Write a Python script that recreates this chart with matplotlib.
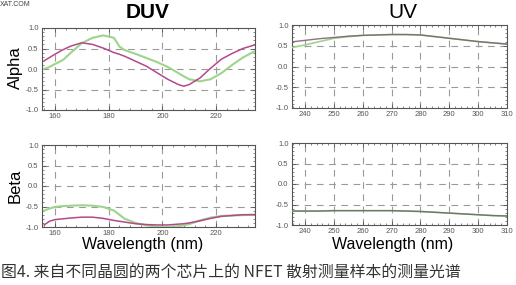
import matplotlib
matplotlib.use("Agg")
from matplotlib import pyplot as plt
from matplotlib.ticker import MultipleLocator

# DUV 区域 (nm)
duv_wl = [156, 158, 160, 163, 166, 170, 174, 178, 182, 184, 186, 190, 194, 198,
          202, 206, 208, 210, 214, 218, 222, 226, 230, 234, 235]
duv_alpha_a = [0.20, 0.28, 0.36, 0.47, 0.56, 0.64, 0.60, 0.51, 0.40, 0.36, 0.31, 0.19,
               0.07, -0.09, -0.25, -0.38, -0.42, -0.38, -0.22, 0.02, 0.24, 0.38, 0.50, 0.58, 0.60]
duv_alpha_b = [0.00, 0.05, 0.12, 0.22, 0.40, 0.63, 0.76, 0.82, 0.76, 0.55, 0.46, 0.37,
               0.27, 0.17, 0.05, -0.10, -0.18, -0.25, -0.30, -0.25, -0.10, 0.10, 0.28, 0.42, 0.45]
duv_beta_a = [-0.95, -0.86, -0.82, -0.80, -0.78, -0.76, -0.76, -0.79, -0.84, -0.86, -0.88,
              -0.92, -0.94, -0.95, -0.95, -0.93, -0.92, -0.90, -0.85, -0.79, -0.74, -0.72,
              -0.70, -0.70, -0.70]
duv_beta_b = [-0.60, -0.55, -0.51, -0.49, -0.48, -0.47, -0.48, -0.51, -0.60, -0.70, -0.80,
              -0.90, -0.96, -0.99, -1.00, -0.98, -0.96, -0.93, -0.84, -0.77, -0.73, -0.72,
              -0.71, -0.70, -0.70]

# UV 区域 (nm)
uv_wl = [235, 240, 245, 250, 255, 260, 265, 270, 275, 280, 285, 290, 295, 300, 305, 310]
uv_alpha_a = [0.59, 0.63, 0.67, 0.70, 0.73, 0.75, 0.76, 0.77, 0.77, 0.76, 0.72, 0.68,
              0.64, 0.60, 0.57, 0.54]
uv_alpha_b = [0.45, 0.52, 0.60, 0.68, 0.72, 0.75, 0.76, 0.77, 0.77, 0.76, 0.72, 0.68,
              0.64, 0.60, 0.57, 0.54]
uv_beta_a = [-0.66, -0.66, -0.66, -0.65, -0.65, -0.65, -0.65, -0.65, -0.66, -0.67, -0.69,
             -0.71, -0.73, -0.75, -0.77, -0.78]
uv_beta_b = [-0.66, -0.66, -0.66, -0.65, -0.65, -0.65, -0.65, -0.65, -0.66, -0.67, -0.69,
             -0.71, -0.73, -0.75, -0.77, -0.78]

y_ticks = [-1.0, -0.5, 0.0, 0.5, 1.0]
duv_ticks = [160, 180, 200, 220]
uv_ticks = [240, 250, 260, 270, 280, 290, 300, 310]

c_a = "#b4488a"   # 品红
c_b = "#9ed48c"   # 浅绿

plt.rcParams['font.family'] = ['Liberation Sans', 'DejaVu Sans']

fig = plt.figure(figsize=(5.16, 2.85), dpi=100)
W, H = 516.0, 285.0


def make_ax(l, r, t, b):
    return fig.add_axes([l / W, 1 - b / H, (r - l) / W, (b - t) / H])


def style(ax, xlim, xt, xminor, gx):
    ax.set_xlim(*xlim)
    ax.set_ylim(-1.0, 1.0)
    ax.set_xticks(xt)
    ax.set_yticks(y_ticks)
    ax.set_yticklabels(["%.1f" % v for v in y_ticks])
    ax.xaxis.set_minor_locator(MultipleLocator(xminor))
    ax.yaxis.set_minor_locator(MultipleLocator(0.1))
    ax.tick_params(which='both', direction='in', top=True, right=True,
                   colors='#555555', labelsize=5.5, pad=2.5)
    ax.tick_params(which='major', length=3, width=0.6)
    ax.tick_params(which='minor', length=1.5, width=0.5)
    for s in ax.spines.values():
        s.set_color('#555555')
        s.set_linewidth(0.8)
    for x in gx:
        ax.axvline(x, color='#9a9a9a', lw=0.8, ls=(0, (6, 5)), zorder=1)
    for y in [-0.5, 0.0, 0.5]:
        ax.axhline(y, color='#9a9a9a', lw=0.8, ls=(0, (6, 5)), zorder=1)


ax1 = make_ax(42, 255, 28, 110)
ax2 = make_ax(292, 507, 25, 108)
ax3 = make_ax(42, 255, 145, 227)
ax4 = make_ax(292, 507, 143, 225)

ax1.plot(duv_wl, duv_alpha_b, color=c_b, lw=1.5, zorder=3)
ax1.plot(duv_wl, duv_alpha_a, color=c_a, lw=1.1, zorder=4)
ax3.plot(duv_wl, duv_beta_b, color=c_b, lw=1.5, zorder=3)
ax3.plot(duv_wl, duv_beta_a, color=c_a, lw=1.1, zorder=4)
ax2.plot(uv_wl, uv_alpha_b, color=c_b, lw=1.2, zorder=3)
ax2.plot(uv_wl, uv_alpha_a, color='#7a5a70', lw=1.0, alpha=0.85, zorder=4)
ax4.plot(uv_wl, uv_beta_b, color=c_b, lw=1.2, zorder=3)
ax4.plot(uv_wl, uv_beta_a, color='#6a6a6a', lw=1.0, alpha=0.9, zorder=4)

for ax in (ax1, ax3):
    style(ax, (155.2, 234.5), duv_ticks, 4, duv_ticks)
for ax in (ax2, ax4):
    style(ax, (235.5, 310), uv_ticks, 2, uv_ticks[:-1])

fig.text(148 / W, 1 - 13 / H, "DUV", ha='center', va='center', fontsize=15, fontweight='bold')
fig.text(403 / W, 1 - 12 / H, "UV", ha='center', va='center', fontsize=15)
fig.text(15 / W, 1 - 68 / H, "Alpha", ha='center', va='center', rotation=90, fontsize=12)
fig.text(15 / W, 1 - 186 / H, "Beta", ha='center', va='center', rotation=90, fontsize=12)
fig.text(143 / W, 1 - 244 / H, "Wavelength (nm)", ha='center', va='center', fontsize=11.5)
fig.text(393 / W, 1 - 244 / H, "Wavelength (nm)", ha='center', va='center', fontsize=11.5)
fig.text(0, 1 - 4 / H, "XAT.COM", ha='left', va='center', fontsize=5, color='#444444')
fig.text(1 / W, 1 - 272 / H, "图4. 来自不同晶圆的两个芯片上的 NFET 散射测量样本的测量光谱",
         ha='left', va='center', fontsize=11.4, color='#333333',
         family=['Noto Sans CJK SC', 'DejaVu Sans'])

fig.savefig("out.png", dpi=100)
